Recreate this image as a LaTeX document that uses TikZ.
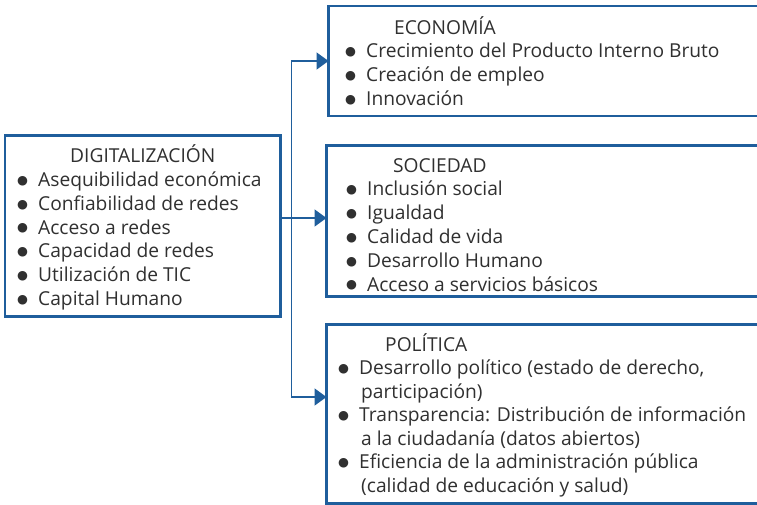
\documentclass[tikz,border=0pt]{standalone}
\usepackage{fontspec}
\setmainfont{Open Sans}
\newfontfamily\simbolos{DejaVu Sans}
\usetikzlibrary{arrows.meta}
\definecolor{azul}{HTML}{1F5E9C}
\definecolor{texto}{HTML}{303030}
\newcommand{\blt}{\makebox[21pt][l]{\raisebox{2.2pt}{\simbolos\fontsize{12.5}{12.5}\selectfont ●}}}

\begin{document}
\begin{tikzpicture}[x=1pt, y=-1pt,
    caja/.style={draw=azul, line width=2.8pt, minimum height=#1, inner sep=0pt, outer sep=0pt, anchor=north west},
    lista/.style={anchor=base west, inner sep=0pt, text=texto, font=\fontsize{19.2}{23.8}\selectfont},
    linea/.style={draw=azul, line width=1.6pt},
    flecha/.style={linea, -{Triangle[length=12pt, width=17pt]}}]
	\useasboundingbox (0,0) rectangle (757,504);
	\clip (0,0) rectangle (757,504);
	\fill[white] (0,0) rectangle (757,504);

	\node[caja=181pt, minimum width=275.5pt] (dig) at (5,135.5) {};
	\node[caja=110pt, minimum width=460pt] (eco) at (328.5,6) {};
	\node[caja=151pt, minimum width=460pt] (soc) at (326.5,145.5) {};
	\node[caja=179pt, minimum width=460pt] (pol) at (326.5,324.5) {};

	\node[lista] (digtxt) at (17,162.7) {\begin{tabular}[t]{@{}l@{}}
		\hspace*{53pt}DIGITALIZACIÓN\\
		\blt Asequibilidad económica\\
		\blt Confiabilidad de redes\\
		\blt Acceso a redes\\
		\blt Capacidad de redes\\
		\blt Utilización de TIC\\
		\blt Capital Humano
	\end{tabular}};

	\node[lista] (ecotxt) at (345,34) {\begin{tabular}[t]{@{}l@{}}
		\hspace*{49pt}ECONOMÍA\\
		\blt Crecimiento del Producto Interno Bruto\\
		\blt Creación de empleo\\
		\blt Innovación
	\end{tabular}};

	\node[lista] (soctxt) at (346,172) {\begin{tabular}[t]{@{}l@{}}
		\hspace*{47pt}SOCIEDAD\\
		\blt Inclusión social\\
		\blt Igualdad\\
		\blt Calidad de vida\\
		\blt Desarrollo Humano\\
		\blt Acceso a servicios básicos
	\end{tabular}};

	\node[lista, font=\fontsize{19.2}{23.5}\selectfont] (poltxt) at (338,351) {\begin{tabular}[t]{@{}l@{}}
		\hspace*{47pt}POLÍTICA\\
		\blt Desarrollo político (estado de derecho,\\
		\hspace*{23pt}participación)\\
		\blt Transparencia: Distribución de información\\
		\hspace*{23pt}a la ciudadanía (datos abiertos)\\
		\blt Eficiencia de la administración pública\\
		\hspace*{23pt}(calidad de educación y salud)
	\end{tabular}};

	\coordinate (j) at (291.5,218);
	\draw[linea] (dig.east |- j) -- (j);
	\draw[flecha] (j) -- (j -| soc.west);
	\draw[flecha] (j) |- (eco.west);
	\draw[flecha] (j) |- ([yshift=17pt]pol.west);
\end{tikzpicture}
\end{document}
